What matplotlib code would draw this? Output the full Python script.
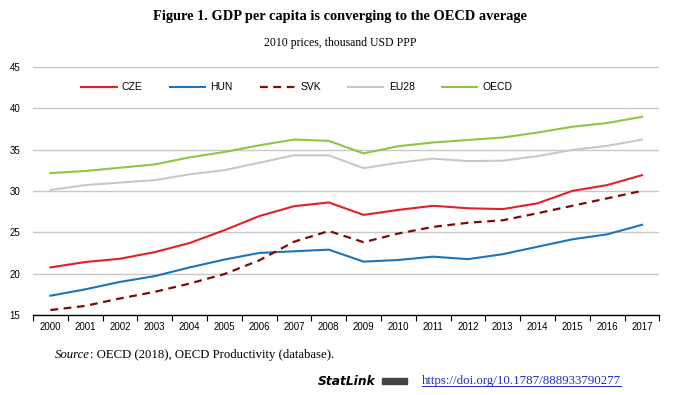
import numpy as np
import matplotlib
matplotlib.use("Agg")
import matplotlib.pyplot as plt
from matplotlib.lines import Line2D
from matplotlib.patches import Rectangle

years = list(range(2000, 2018))
cze = [20.75, 21.4, 21.8, 22.6, 23.7, 25.25, 26.95, 28.15, 28.6, 27.1, 27.7, 28.2, 27.9, 27.8, 28.5, 30.0, 30.7, 31.9]
hun = [17.33, 18.1, 19.0, 19.7, 20.75, 21.7, 22.5, 22.7, 22.9, 21.45, 21.65, 22.05, 21.75, 22.35, 23.25, 24.15, 24.75, 25.9]
svk = [15.6, 16.1, 17.0, 17.8, 18.8, 19.95, 21.6, 23.85, 25.15, 23.8, 24.85, 25.65, 26.15, 26.45, 27.3, 28.2, 29.1, 30.0]
eu28 = [30.1, 30.7, 31.0, 31.3, 32.0, 32.5, 33.4, 34.3, 34.3, 32.75, 33.4, 33.9, 33.6, 33.65, 34.2, 34.95, 35.45, 36.2]
oecd = [32.15, 32.4, 32.8, 33.2, 34.05, 34.7, 35.5, 36.2, 36.05, 34.53, 35.4, 35.85, 36.15, 36.45, 37.05, 37.75, 38.2, 38.95]

sans = ["Liberation Sans", "DejaVu Sans"]
serif = ["Liberation Serif", "DejaVu Serif"]

fig = plt.figure(figsize=(6.8, 3.95), dpi=100)
ax = fig.add_axes([0.0485, 0.2025, 0.9212, 0.6285])

x = np.arange(len(years))
ax.plot(x, cze, color="#E3202A", lw=1.5, label="CZE")
ax.plot(x, hun, color="#1C75BC", lw=1.5, label="HUN")
ax.plot(x, svk, color="#7F0A0A", lw=1.6, ls=(0, (3.5, 2.5)), label="SVK")
ax.plot(x, eu28, color="#C8C8C8", lw=1.5, label="EU28")
ax.plot(x, oecd, color="#8DC63F", lw=1.5, label="OECD")

ax.set_xlim(-0.5, len(years) - 0.5)
ax.set_ylim(15, 45)
ax.set_yticks(range(15, 50, 5))
ax.yaxis.grid(True, color="#C8C8C8", lw=1.0)
ax.set_axisbelow(True)
for s in ["left", "right", "top"]:
    ax.spines[s].set_visible(False)
ax.spines["bottom"].set_linewidth(1.0)

ax.set_xticks(x)
ax.set_xticklabels([str(y) for y in years], fontsize=7, family=sans)
ax.set_xticks(np.arange(-0.5, len(years)), minor=True)
ax.tick_params(axis="x", which="major", length=0, pad=5)
ax.tick_params(axis="x", which="minor", length=4, width=0.8, direction="out")
ax.tick_params(axis="y", length=0, pad=9, labelsize=7)
for lab in ax.get_yticklabels():
    lab.set_family(sans)

ax.legend(loc="upper left", bbox_to_anchor=(0.062, 0.975), ncol=5, frameon=False,
          handlelength=3.4, columnspacing=2.6, handletextpad=0.5,
          prop={"family": sans, "size": 7.5})

fig.text(0.5, 0.957, "Figure 1. GDP per capita is converging to the OECD average",
         ha="center", va="center", fontsize=10.4, fontweight="bold", family=serif)
fig.text(0.5, 0.891, "2010 prices, thousand USD PPP", ha="center", va="center",
         fontsize=8.5, family=serif)

t1 = fig.text(0.081, 0.101, "Source", ha="left", va="center", fontsize=9.2,
              style="italic", family=serif)
fig.canvas.draw()
r = fig.canvas.get_renderer()
bb = t1.get_window_extent(r)
fig.text(bb.x1 / fig.bbox.width, 0.101, ": OECD (2018), OECD Productivity (database).",
         ha="left", va="center", fontsize=9.2, family=serif)

fig.text(0.468, 0.035, "StatLink", ha="left", va="center", fontsize=8.8,
         style="italic", fontweight="semibold", family=["DejaVu Sans"])
fig.patches.append(Rectangle((0.562, 0.028), 0.037, 0.016, transform=fig.transFigure,
                             color="#444444", figure=fig))
url = fig.text(0.621, 0.035, "https://doi.org/10.1787/888933790277", ha="left",
               va="center", fontsize=9.3, color="#1F2FBF", family=serif)
fig.canvas.draw()
ub = url.get_window_extent(r)
W, H = fig.bbox.width, fig.bbox.height
fig.lines.append(Line2D([ub.x0 / W, ub.x1 / W], [(ub.y0 + 1.5) / H] * 2,
                        transform=fig.transFigure, color="#1F2FBF", lw=0.7))

fig.savefig("out.png", dpi=100)
